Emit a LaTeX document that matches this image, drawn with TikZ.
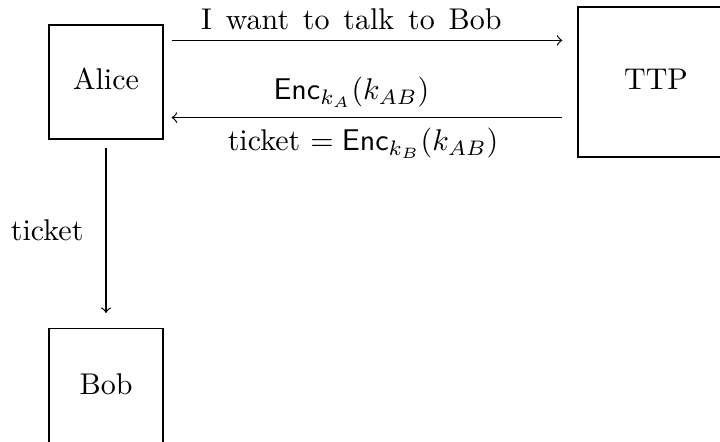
\documentclass[tikz,border=0pt]{standalone}
\usetikzlibrary{calc}
\begin{document}
\begin{tikzpicture}[x=0.3333pt,y=-0.3333pt,>=to,party/.style={draw,minimum size=38pt,text depth=2pt}]
                \clip (0,0) rectangle (720,441);
                \node[party] (alice) at (106,82) {Alice};
                \node[party,minimum width=52pt,minimum height=50pt] (ttp) at (656,82) {TTP};
                \node[party,minimum height=39pt] (bob) at (106,387) {Bob};
                \coordinate (req) at ($(alice.north east)+(8,16)$);
                \coordinate (rep) at ($(alice.south east)+(8,-22)$);
                \draw[->] (req) -- ($(req -| ttp.west)+(-15,0)$) node[pos=0.46,above] {\spaceskip=4.6pt I want to talk to Bob};
                \draw[<-] (rep) -- ($(rep -| ttp.west)+(-15,0)$) node[pos=0.46,above] {$\mathsf{Enc}_{k_A}(k_{AB})$} node[pos=0.49,below] {ticket $=\mathsf{Enc}_{k_B}(k_{AB})$};
                \draw[->] ($(alice.south)+(0,8)$) -- ($(bob.north)+(0,-15)$) node[midway,left=4pt] {ticket};
            \end{tikzpicture}
\end{document}
